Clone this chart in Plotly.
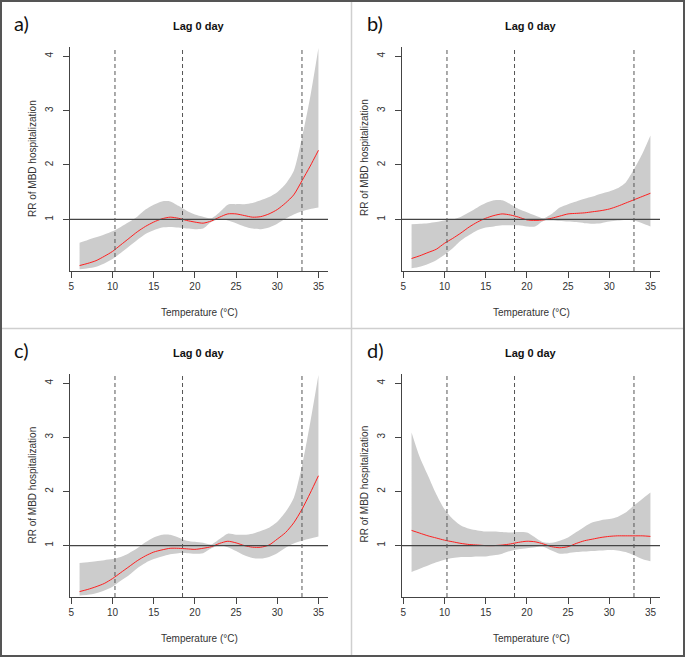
import plotly.graph_objects as go

# temperature grid (°C)
temperature = [6, 7, 8, 9, 10, 11, 12, 13, 14, 15, 16, 17, 18, 19, 20,
               21, 22, 23, 24, 25, 26, 27, 28, 29, 30, 31, 32, 33, 34, 35]

# panel a)
rr_a = [0.15, 0.19, 0.24, 0.32, 0.41, 0.53, 0.65, 0.77, 0.87, 0.95, 1.01, 1.04, 1.02, 0.98, 0.95,
        0.93, 0.97, 1.04, 1.10, 1.10, 1.07, 1.04, 1.05, 1.10, 1.18, 1.30, 1.45, 1.71, 1.98, 2.27]
hi_a = [0.57, 0.62, 0.67, 0.72, 0.78, 0.86, 0.95, 1.05, 1.18, 1.27, 1.33, 1.33, 1.25, 1.16, 1.09,
        1.05, 1.02, 1.13, 1.27, 1.28, 1.28, 1.30, 1.35, 1.41, 1.50, 1.65, 1.89, 2.50, 3.25, 4.15]
lo_a = [0.08, 0.10, 0.13, 0.19, 0.27, 0.38, 0.50, 0.62, 0.73, 0.80, 0.85, 0.86, 0.85, 0.83, 0.82,
        0.83, 0.95, 1.00, 0.98, 0.93, 0.87, 0.83, 0.82, 0.85, 0.92, 1.01, 1.09, 1.15, 1.19, 1.22]

# panel b)
rr_b = [0.28, 0.33, 0.39, 0.45, 0.56, 0.65, 0.75, 0.86, 0.95, 1.02, 1.07, 1.10, 1.08, 1.04, 0.99,
        0.98, 0.99, 1.02, 1.06, 1.10, 1.11, 1.12, 1.14, 1.16, 1.19, 1.24, 1.30, 1.36, 1.42, 1.48]
hi_b = [0.91, 0.92, 0.93, 0.95, 0.98, 1.00, 1.05, 1.13, 1.22, 1.30, 1.35, 1.35, 1.28, 1.19, 1.13,
        1.07, 1.02, 1.10, 1.22, 1.28, 1.33, 1.38, 1.42, 1.47, 1.51, 1.57, 1.68, 1.92, 2.20, 2.54]
lo_b = [0.10, 0.13, 0.18, 0.25, 0.35, 0.47, 0.61, 0.71, 0.80, 0.85, 0.87, 0.89, 0.89, 0.89, 0.87,
        0.87, 0.97, 0.98, 0.97, 0.96, 0.95, 0.93, 0.92, 0.93, 0.96, 0.98, 0.99, 0.98, 0.93, 0.87]

# panel c)
rr_c = [0.15, 0.19, 0.24, 0.30, 0.39, 0.50, 0.61, 0.72, 0.81, 0.88, 0.92, 0.95, 0.95, 0.94, 0.93,
        0.95, 0.98, 1.04, 1.08, 1.05, 1.00, 0.97, 0.97, 1.01, 1.12, 1.24, 1.42, 1.67, 1.97, 2.29]
hi_c = [0.68, 0.69, 0.71, 0.73, 0.75, 0.79, 0.86, 0.95, 1.06, 1.15, 1.20, 1.20, 1.15, 1.09, 1.07,
        1.05, 1.02, 1.12, 1.22, 1.20, 1.20, 1.22, 1.27, 1.33, 1.44, 1.62, 1.88, 2.47, 3.27, 4.15]
lo_c = [0.08, 0.09, 0.12, 0.17, 0.24, 0.35, 0.45, 0.58, 0.68, 0.75, 0.80, 0.84, 0.86, 0.86, 0.85,
        0.86, 0.95, 1.00, 0.97, 0.90, 0.82, 0.77, 0.76, 0.79, 0.86, 0.96, 1.04, 1.09, 1.13, 1.17]

# panel d)
rr_d = [1.28, 1.23, 1.18, 1.14, 1.10, 1.07, 1.04, 1.02, 1.01, 1.00, 1.00, 1.01, 1.03, 1.06, 1.08,
        1.07, 1.03, 0.98, 0.96, 0.98, 1.04, 1.09, 1.12, 1.15, 1.17, 1.18, 1.18, 1.18, 1.18, 1.17]
hi_d = [3.09, 2.63, 2.29, 1.95, 1.67, 1.49, 1.37, 1.31, 1.28, 1.26, 1.26, 1.25, 1.24, 1.25, 1.24,
        1.15, 1.06, 1.05, 1.09, 1.15, 1.25, 1.35, 1.43, 1.47, 1.49, 1.53, 1.61, 1.74, 1.86, 1.98]
lo_d = [0.51, 0.57, 0.63, 0.69, 0.74, 0.77, 0.79, 0.79, 0.80, 0.80, 0.82, 0.85, 0.90, 0.93, 0.95,
        0.97, 0.98, 0.91, 0.85, 0.86, 0.88, 0.89, 0.90, 0.91, 0.92, 0.91, 0.88, 0.82, 0.75, 0.71]

panel_labels = ["a)", "b)", "c)", "d)"]
panel_title = "Lag 0 day"
cutoffs = [10.3, 18.5, 33.0]   # dashed vertical reference temperatures
ref_rr = 1
x_ticks = [5, 10, 15, 20, 25, 30, 35]
y_ticks = [1, 2, 3, 4]

panels = [(rr_a, lo_a, hi_a), (rr_b, lo_b, hi_b), (rr_c, lo_c, hi_c), (rr_d, lo_d, hi_d)]

W, H = 685, 657
# plot regions in pixels: (left, right, top, bottom)
boxes = [(70, 328, 47, 271), (402, 660, 47, 271),
         (70, 328, 374, 597), (402, 660, 374, 597)]
label_pos = [(12, 23), (365, 23), (12, 350), (365, 350)]

FONT = "Liberation Sans, Arial, sans-serif"
AXC = "#444444"
SMOOTH = dict(shape="spline", smoothing=0.7)

fig = go.Figure()
layout = dict(
    width=W, height=H,
    margin=dict(l=0, r=0, t=0, b=0),
    paper_bgcolor="white", plot_bgcolor="white",
    showlegend=False,
    font=dict(family=FONT, size=10, color="#333333"),
)
shapes = []
annotations = []

for i, (rr, lo, hi) in enumerate(panels):
    n = "" if i == 0 else str(i + 1)
    xa, ya = "x" + n, "y" + n
    l, r, t, b = boxes[i]

    # confidence band: lower edge, then upper edge filled down to it
    fig.add_trace(go.Scatter(
        x=temperature, y=lo, mode="lines", line=dict(width=0, **SMOOTH),
        hoverinfo="skip", xaxis=xa, yaxis=ya))
    fig.add_trace(go.Scatter(
        x=temperature, y=hi, mode="lines", line=dict(width=0, **SMOOTH),
        fill="tonexty", fillcolor="#cccccc", hoverinfo="skip", xaxis=xa, yaxis=ya))
    # relative risk curve
    fig.add_trace(go.Scatter(
        x=temperature, y=rr, mode="lines",
        line=dict(color="#ff2020", width=1, **SMOOTH), xaxis=xa, yaxis=ya))

    layout["xaxis" + n] = dict(
        domain=[l / W, r / W], anchor=ya, range=[4.84, 36.16],
        tickvals=x_ticks, ticks="outside", ticklen=6, tickcolor=AXC,
        showline=True, linecolor=AXC, linewidth=1, showgrid=False, zeroline=False,
        tickfont=dict(size=10, color="#333333"))
    layout["yaxis" + n] = dict(
        domain=[1 - b / H, 1 - t / H], anchor=xa, range=[0.05, 4.17],
        tickvals=y_ticks, ticks="outside", ticklen=6, tickcolor=AXC, tickangle=-90,
        ticklabelstandoff=6,
        showline=True, linecolor=AXC, linewidth=1, showgrid=False, zeroline=False,
        tickfont=dict(size=10, color="#333333"))

    # reference line RR = 1
    shapes.append(dict(type="line", xref=xa + " domain", yref=ya, x0=0, x1=1,
                       y0=ref_rr, y1=ref_rr, line=dict(color="#444444", width=1.2)))
    for c in cutoffs:
        shapes.append(dict(type="line", xref=xa, yref=ya + " domain", x0=c, x1=c,
                           y0=0, y1=1, line=dict(color="#555555", width=1, dash="4px,3px")))

    cx = (l + r) / 2
    annotations.append(dict(text="<b>" + panel_title + "</b>", x=cx / W, y=1 - (t - 21) / H,
                            xref="paper", yref="paper", showarrow=False,
                            xanchor="center", yanchor="middle",
                            font=dict(size=11, color="#111111")))
    annotations.append(dict(text="Temperature (°C)", x=cx / W, y=1 - (b + 41) / H,
                            xref="paper", yref="paper", showarrow=False,
                            xanchor="center", yanchor="middle",
                            font=dict(size=10, color="#333333")))
    annotations.append(dict(text="RR of MBD hospitalization", x=(l - 38) / W,
                            y=1 - ((t + b) / 2 - 1) / H,
                            xref="paper", yref="paper", showarrow=False, textangle=-90,
                            xanchor="center", yanchor="middle",
                            font=dict(size=10, color="#333333")))
    lx, ly = label_pos[i]
    annotations.append(dict(text=panel_labels[i], x=lx / W, y=1 - ly / H,
                            xref="paper", yref="paper", showarrow=False,
                            xanchor="left", yanchor="middle",
                            font=dict(family="Lato, Open Sans, sans-serif", size=20,
                                      color="#111111")))

# panel dividers and outer frame
shapes.append(dict(type="line", xref="paper", yref="paper", x0=351.5 / W, x1=351.5 / W,
                   y0=0, y1=1, line=dict(color="#cfcfcf", width=1.5)))
shapes.append(dict(type="line", xref="paper", yref="paper", x0=0, x1=1,
                   y0=1 - 328.5 / H, y1=1 - 328.5 / H, line=dict(color="#cfcfcf", width=1.5)))
shapes.append(dict(type="rect", xref="paper", yref="paper", x0=0, x1=1, y0=0, y1=1,
                   line=dict(color="#555555", width=4)))

layout["shapes"] = shapes
layout["annotations"] = annotations
fig.update_layout(**layout)

# drop the default page margin so the figure sits at the window origin
fig.write_html("out.html", config={"displayModeBar": False},
               post_script="document.body.style.margin='0';")
